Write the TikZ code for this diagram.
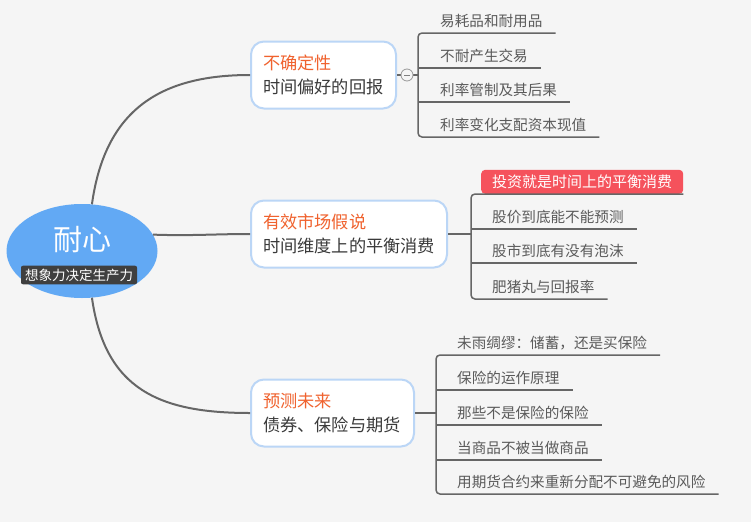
\documentclass[tikz,border=0pt]{standalone}
\usepackage{fontspec}
\setmainfont{Noto Sans CJK SC}
\usetikzlibrary{shapes.geometric}
\definecolor{canvas}{HTML}{F5F5F5}
\definecolor{rootblue}{HTML}{62A9F4}
\definecolor{tagdark}{HTML}{3F3F3F}
\definecolor{topicedge}{HTML}{BBD6F6}
\definecolor{titleorange}{HTML}{F0622E}
\definecolor{bodygray}{HTML}{3A3A3A}
\definecolor{leafgray}{HTML}{5A5A5A}
\definecolor{linegray}{HTML}{666666}
\definecolor{hotred}{HTML}{F5525C}

\begin{document}
\begin{tikzpicture}[x=1pt, y=-1pt,
  root/.style={ellipse, fill=rootblue, minimum width=151pt, minimum height=94pt, inner sep=0pt},
  tag/.style={fill=tagdark, rounded corners=2pt, text=white, inner xsep=4pt, inner ysep=3pt,
    font=\fontsize{13.5}{16}\selectfont},
  topic/.style={draw=topicedge, line width=2pt, fill=white, rounded corners=13pt, anchor=west,
    align=left, inner xsep=12pt, minimum height=67pt, text=bodygray,
    font=\fontsize{17.2}{24}\selectfont},
  leaf/.style={anchor=south west, inner xsep=0pt, inner ysep=5pt, text=leafgray,
    font=\fontsize{14.6}{17}\selectfont},
  limb/.style={draw=linegray, line width=2pt},
  twig/.style={draw=linegray, line width=1.5pt, rounded corners=4pt}]

  % canvas
  \path[use as bounding box, fill=canvas] (0,0) rectangle (751,522);

  % central topic
  \node[root] (root) at (82,251) {};
  \node[text=white, font=\fontsize{29}{31}\selectfont] (title) at (82,240) {耐心};
  \node[tag] (tag) at (79,275) {想象力决定生产力};

  % three main topics
  \node[topic, text width=121pt] (u1) at (250,75) {{\color{titleorange}不确定性}\\时间偏好的回报};
  \node[topic, text width=172pt] (u2) at (250,234) {{\color{titleorange}有效市场假说}\\时间维度上的平衡消费};
  \node[topic, text width=139pt] (u3) at (250,413) {{\color{titleorange}预测未来}\\债券、保险与期货};

  % limbs from the centre
  \draw[limb] (root.78) .. controls (105,110) and (160,75) .. (u1.west);
  \draw[limb] (root.13) .. controls (190,236) and (215,234) .. (u2.west);
  \draw[limb] (root.-78) .. controls (105,390) and (160,413) .. (u3.west);

  % first group of subtopics
  \coordinate (k1) at (418,75);
  \node[leaf] (l11) at (440,33) {易耗品和耐用品};
  \node[leaf] (l12) at (440,68) {不耐产生交易};
  \node[leaf] (l13) at (440,102) {利率管制及其后果};
  \node[leaf] (l14) at (440,137) {利率变化支配资本现值};
  \draw[twig] ([xshift=13pt]l11.south east) -| (k1) |- ([xshift=13pt]l14.south east);
  \draw[twig] (k1 |- l12.south) -- ([xshift=13pt]l12.south east);
  \draw[twig] (k1 |- l13.south) -- ([xshift=13pt]l13.south east);
  \draw[twig] (u1.east) -- (k1);
  \node[circle, draw=gray!80, fill=canvas, line width=0.8pt, minimum size=12pt, inner sep=0pt] (fold) at (407,75) {};
  \draw[gray, line width=0.8pt] ([xshift=-3pt]fold.center) -- ([xshift=3pt]fold.center);

  % second group of subtopics
  \coordinate (k2) at (471,234);
  \node[leaf, fill=hotred, text=white, rounded corners=4pt, inner xsep=11pt, inner ysep=0pt,
    minimum height=24pt, font=\fontsize{15}{17}\selectfont] (l21) at (481,194) {投资就是时间上的平衡消费};
  \node[leaf] (l22) at (492,229) {股价到底能不能预测};
  \node[leaf] (l23) at (492,263) {股市到底有没有泡沫};
  \node[leaf] (l24) at (492,299) {肥猪丸与回报率};
  \draw[twig] (l21.south east) -| (k2) |- ([xshift=13pt]l24.south east);
  \draw[twig] (k2 |- l22.south) -- ([xshift=13pt]l22.south east);
  \draw[twig] (k2 |- l23.south) -- ([xshift=13pt]l23.south east);
  \draw[twig] (u2.east) -- (k2);

  % third group of subtopics
  \coordinate (k3) at (436,413);
  \node[leaf] (l31) at (457,355) {未雨绸缪：储蓄，还是买保险};
  \node[leaf] (l32) at (457,390) {保险的运作原理};
  \node[leaf] (l33) at (457,425) {那些不是保险的保险};
  \node[leaf] (l34) at (457,460) {当商品不被当做商品};
  \node[leaf] (l35) at (457,494) {用期货合约来重新分配不可避免的风险};
  \draw[twig] ([xshift=13pt]l31.south east) -| (k3) |- ([xshift=13pt]l35.south east);
  \draw[twig] (k3 |- l32.south) -- ([xshift=13pt]l32.south east);
  \draw[twig] (k3 |- l33.south) -- ([xshift=13pt]l33.south east);
  \draw[twig] (k3 |- l34.south) -- ([xshift=13pt]l34.south east);
  \draw[twig] (u3.east) -- (k3);
\end{tikzpicture}
\end{document}
